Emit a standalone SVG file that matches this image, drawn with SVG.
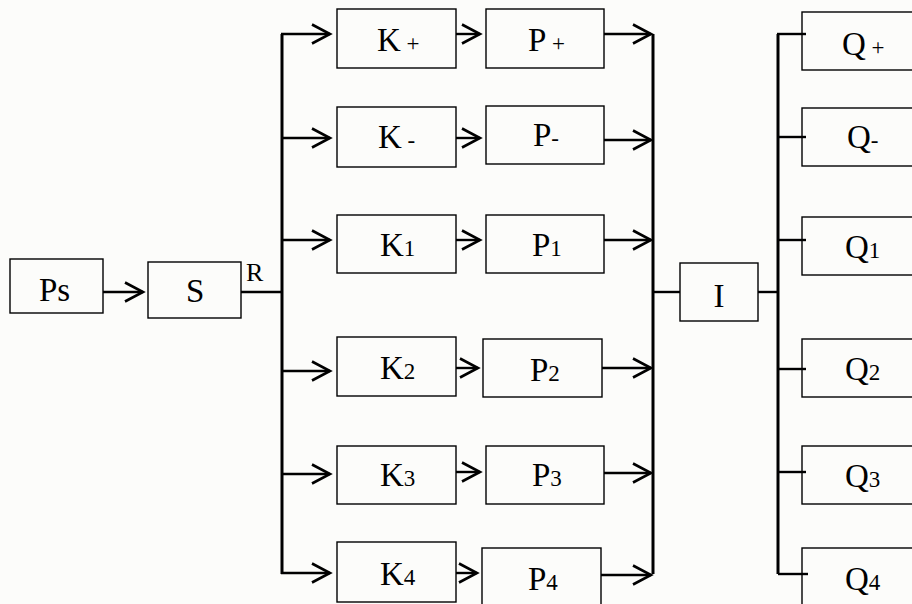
<svg xmlns="http://www.w3.org/2000/svg" width="912" height="604" viewBox="0 0 912 604">
<defs>
<style>
.box{fill:none;stroke:#000;stroke-width:1.4}
.t{font-family:'Liberation Serif','Times New Roman',serif;font-size:33px;fill:#000}
.s{font-size:23px}
.bus{stroke:#000;stroke-width:3;fill:none}
.ln{stroke:#000;stroke-width:2.4;fill:none}
.ar{stroke:#000;stroke-width:2.4;fill:none;marker-end:url(#chev)}
</style>
<marker id="chev" markerUnits="userSpaceOnUse" markerWidth="24" markerHeight="26" viewBox="-21 -13 24 26" refX="0" refY="0" orient="auto">
<path d="M-18,-9.5 L0,0 L-18,9.5" fill="none" stroke="#000" stroke-width="2.6"/>
</marker>
</defs>
<rect width="912" height="604" fill="#fcfcfa"/>

<g id="connectors">
<path class="ar" d="M103,292 H143"/>
<path class="ln" d="M241,292 H282"/>
<path class="bus" d="M282,34 V574"/>
<path class="bus" d="M653,34 V574"/>
<path class="bus" d="M778,34 V574"/>
<path class="ln" d="M653,292 H680"/>
<path class="ln" d="M758,292 H778"/>
<path class="ar" d="M281,34 H330"/>
<path class="ar" d="M282,138 H330"/>
<path class="ar" d="M282,240 H330"/>
<path class="ar" d="M282,371 H330"/>
<path class="ar" d="M282,474 H330"/>
<path class="ar" d="M281,573 H330"/>
<path class="ar" d="M456,34 H480"/>
<path class="ar" d="M456,138 H480"/>
<path class="ar" d="M456,240 H480"/>
<path class="ar" d="M456,368 H478"/>
<path class="ar" d="M456,472 H480"/>
<path class="ar" d="M456,573 H477"/>
<path class="ar" d="M604,34 H651"/>
<path class="ar" d="M604,140 H651"/>
<path class="ar" d="M604,240 H651"/>
<path class="ar" d="M602,368 H651"/>
<path class="ar" d="M604,473 H651"/>
<path class="ar" d="M601,575 H651"/>
<path class="ln" d="M777,34 H806"/>
<path class="ln" d="M778,137 H806"/>
<path class="ln" d="M778,240 H806"/>
<path class="ln" d="M778,369 H806"/>
<path class="ln" d="M778,472 H806"/>
<path class="ln" d="M778,574 H808"/>
</g>

<g font-family="Liberation Serif, Times New Roman, serif">
<g id="Ps"><rect class="box" x="10" y="259" width="93" height="54"/><text class="t" x="39" y="301">Ps</text></g>
<g id="S"><rect class="box" x="148" y="262" width="93" height="56"/><text class="t" x="186" y="302">S</text></g>
<g id="R"><text class="t" x="246" y="281" style="font-size:26px">R</text></g>

<g id="Kplus"><rect class="box" x="337" y="9" width="119" height="59"/><text class="t" x="377" y="51">K<tspan class="s"> +</tspan></text></g>
<g id="Kminus"><rect class="box" x="337" y="107" width="119" height="60"/><text class="t" x="378" y="148">K<tspan class="s"> -</tspan></text></g>
<g id="K1"><rect class="box" x="337" y="215" width="119" height="58"/><text class="t" x="380" y="256">K<tspan class="s">1</tspan></text></g>
<g id="K2"><rect class="box" x="337" y="337" width="119" height="59"/><text class="t" x="380" y="379">K<tspan class="s">2</tspan></text></g>
<g id="K3"><rect class="box" x="337" y="446" width="119" height="58"/><text class="t" x="380" y="486">K<tspan class="s">3</tspan></text></g>
<g id="K4"><rect class="box" x="337" y="542" width="119" height="60"/><text class="t" x="380" y="585">K<tspan class="s">4</tspan></text></g>

<g id="Pplus"><rect class="box" x="486" y="9" width="118" height="59"/><text class="t" x="528" y="51">P<tspan class="s"> +</tspan></text></g>
<g id="Pminus"><rect class="box" x="486" y="106" width="118" height="58"/><text class="t" x="533" y="146">P<tspan class="s">-</tspan></text></g>
<g id="P1"><rect class="box" x="486" y="215" width="118" height="58"/><text class="t" x="532" y="256">P<tspan class="s">1</tspan></text></g>
<g id="P2"><rect class="box" x="483" y="339" width="119" height="58"/><text class="t" x="530" y="381">P<tspan class="s">2</tspan></text></g>
<g id="P3"><rect class="box" x="486" y="446" width="118" height="58"/><text class="t" x="532" y="486">P<tspan class="s">3</tspan></text></g>
<g id="P4"><rect class="box" x="482" y="548" width="119" height="60"/><text class="t" x="528" y="590">P<tspan class="s">4</tspan></text></g>

<g id="I"><rect class="box" x="680" y="263" width="78" height="58"/><text class="t" x="719" y="307" text-anchor="middle">I</text></g>

<g id="Qplus"><rect class="box" x="802" y="12" width="120" height="58"/><text class="t" x="842" y="55">Q<tspan class="s"> +</tspan></text></g>
<g id="Qminus"><rect class="box" x="802" y="108" width="120" height="58"/><text class="t" x="847" y="148">Q<tspan class="s">-</tspan></text></g>
<g id="Q1"><rect class="box" x="802" y="217" width="120" height="58"/><text class="t" x="845" y="258">Q<tspan class="s">1</tspan></text></g>
<g id="Q2"><rect class="box" x="802" y="339" width="120" height="58"/><text class="t" x="845" y="380">Q<tspan class="s">2</tspan></text></g>
<g id="Q3"><rect class="box" x="802" y="446" width="120" height="58"/><text class="t" x="845" y="487">Q<tspan class="s">3</tspan></text></g>
<g id="Q4"><rect class="box" x="802" y="548" width="120" height="60"/><text class="t" x="845" y="590">Q<tspan class="s">4</tspan></text></g>
</g>
</svg>
